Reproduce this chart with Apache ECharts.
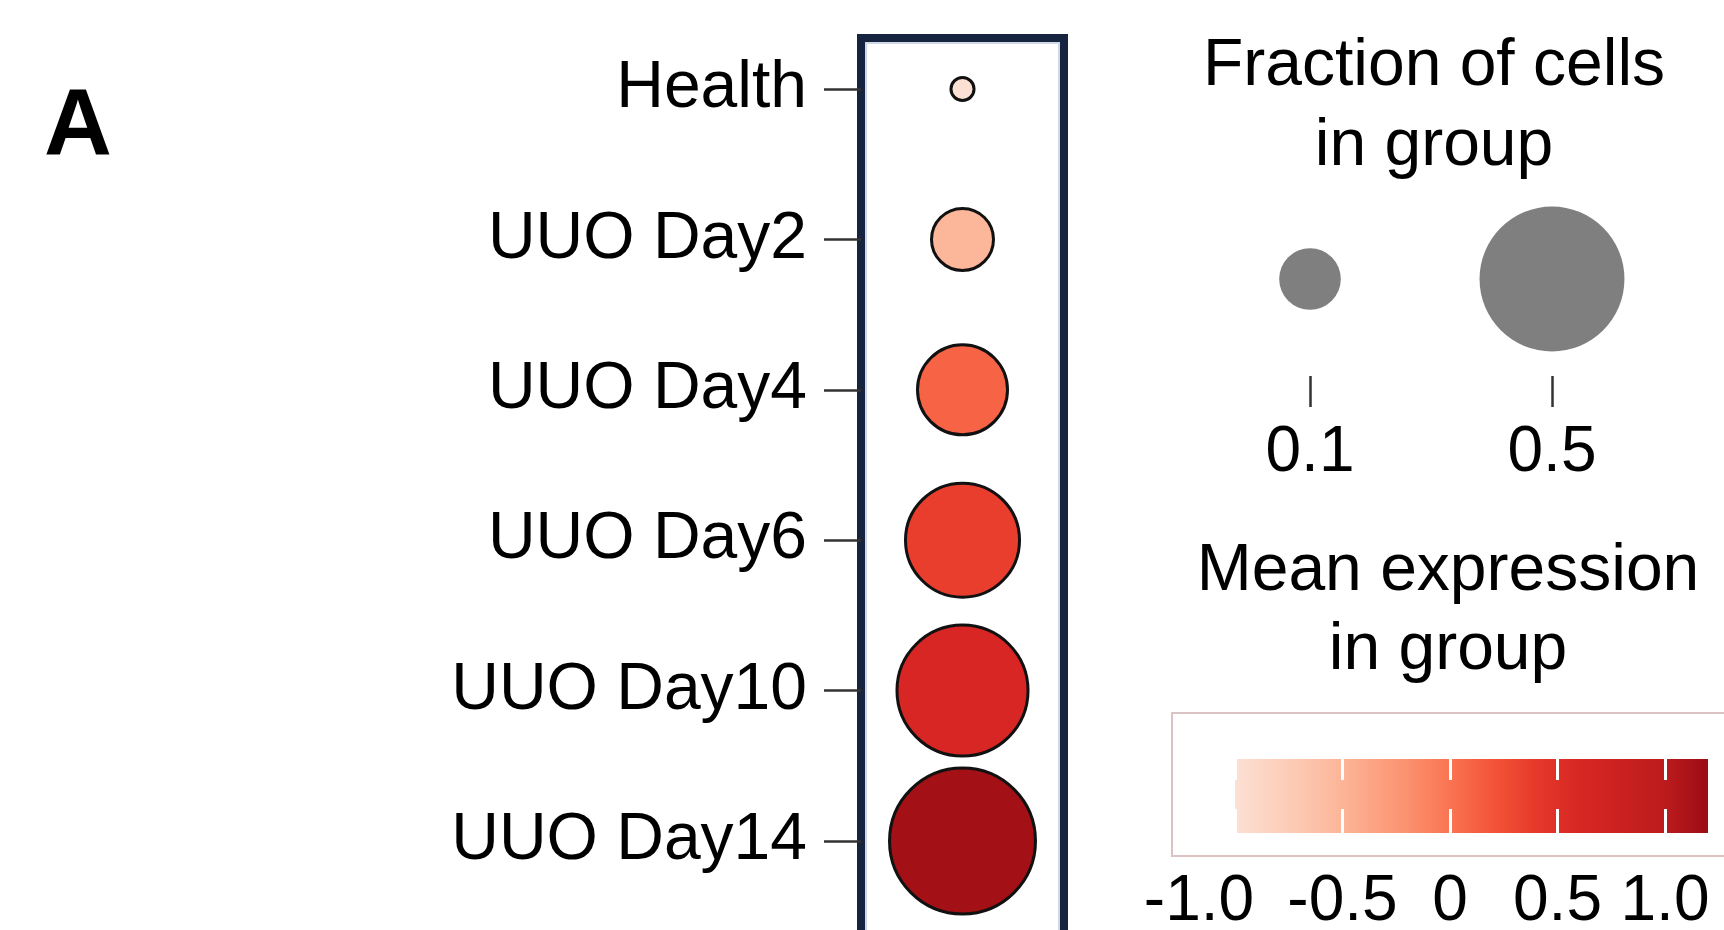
<!DOCTYPE html>
<html>
<head>
<meta charset="utf-8">
<title>Dot plot</title>
<script src="https://cdn.jsdelivr.net/npm/echarts@6/dist/echarts.min.js"></script>
<style>
  html, body { margin: 0; padding: 0; background: #ffffff; }
  #chart { width: 1724px; height: 930px; }
</style>
</head>
<body>
<div id="chart"></div>
<script>
// ---- data ----
const groups = ['Health', 'UUO Day2', 'UUO Day4', 'UUO Day6', 'UUO Day10', 'UUO Day14'];
const fractionInGroup = [0.024, 0.101, 0.200, 0.314, 0.411, 0.507];
const meanExpression = [-1.0, -0.52, 0.10, 0.36, 0.62, 1.15];

const sizeLegendFractions = [0.1, 0.5];
const sizeLegendLabels = ['0.1', '0.5'];

const colorRange = [-1.0, 1.2];
const colorTicks = [-1.0, -0.5, 0, 0.5, 1.0];
const colorTickLabels = ['-1.0', '-0.5', '0', '0.5', '1.0'];

// Reds-like palette, evenly spread across colorRange
const palette = ['#fde0d4', '#fcd0bc', '#fcbfa5', '#fca98a', '#fb916f', '#fa7452',
                 '#f35438', '#e6392b', '#d82723', '#ca2120', '#bc1b1d', '#9b0c14'];

// ---- helpers ----
const FONT = "'Liberation Sans', Arial, Helvetica, sans-serif";

// dot area grows linearly with the fraction of cells
function dotDiameter(frac) {
  return Math.sqrt(Math.max(43000 * frac - 500, 4));
}

const chart = echarts.init(document.getElementById('chart'), null, { renderer: 'canvas' });

const hiddenAxis = (gridIndex, extra) => Object.assign({
  gridIndex: gridIndex, type: 'value', show: false, min: 0, max: 1
}, extra || {});

const gridBase = { outerBoundsMode: 'none', containLabel: false };

const option = {
  backgroundColor: '#ffffff',
  animation: false,
  textStyle: { fontFamily: FONT },
  grid: [
    // 0: dark frame around the dots
    Object.assign({ left: 861, width: 203, top: 38, height: 1000, show: true, borderColor: '#17243f', borderWidth: 8, backgroundColor: 'transparent' }, gridBase),
    // 1: thin light line inside the frame
    Object.assign({ left: 866, width: 193, top: 43, height: 1000, show: true, borderColor: '#cfd8e6', borderWidth: 2, backgroundColor: 'transparent' }, gridBase),
    // 2: dot plot
    Object.assign({ left: 861, width: 203, top: 89, bottom: 89 }, gridBase),
    // 3: size legend
    Object.assign({ left: 1189, right: 51, top: 182, bottom: 554 }, gridBase),
    // 4: colorbar frame
    Object.assign({ left: 1172, width: 600, top: 713, bottom: 74, show: true, borderColor: '#dcc3c3', borderWidth: 2, backgroundColor: 'transparent' }, gridBase),
    // 5: colorbar
    Object.assign({ left: 1235, right: 16, top: 759, bottom: 97 }, gridBase)
  ],
  xAxis: [
    hiddenAxis(0),
    hiddenAxis(1),
    { gridIndex: 2, type: 'category', data: ['expr'], boundaryGap: true, show: false },
    {
      gridIndex: 3, type: 'category', data: sizeLegendLabels, boundaryGap: true, position: 'bottom',
      axisLine: { show: false },
      axisTick: { show: true, alignWithLabel: true, length: 31, lineStyle: { color: '#333333', width: 2.5 } },
      axisLabel: { fontSize: 64, color: '#000000', margin: 45, fontFamily: FONT },
      splitLine: { show: false }
    },
    hiddenAxis(4),
    {
      gridIndex: 5, type: 'value', position: 'bottom', min: colorRange[0], max: colorRange[1], interval: 0.5,
      z: 10,
      axisLine: { show: false },
      axisTick: { show: true, inside: true, length: 24, customValues: colorTicks, lineStyle: { color: '#ffffff', width: 3 } },
      axisLabel: {
        show: true, fontSize: 64, color: '#000000', margin: 37, fontFamily: FONT,
        customValues: colorTicks,
        formatter: function (v) {
          const i = colorTicks.findIndex(t => Math.abs(t - v) < 1e-9);
          if (i < 0) return '';
          // the lowest label sits a little to the left of its tick
          return i === 0 ? '{lo|' + colorTickLabels[i] + '}' : colorTickLabels[i];
        },
        rich: {
          lo: { fontSize: 64, fontFamily: FONT, color: '#000000', padding: [0, 72, 0, 0] }
        }
      },
      splitLine: { show: false }
    },
    {
      gridIndex: 5, type: 'value', position: 'top', min: colorRange[0], max: colorRange[1], interval: 0.5,
      z: 10,
      axisLine: { show: false },
      axisTick: { show: true, inside: true, length: 21, customValues: colorTicks, lineStyle: { color: '#ffffff', width: 3 } },
      axisLabel: { show: false },
      splitLine: { show: false }
    }
  ],
  yAxis: [
    hiddenAxis(0),
    hiddenAxis(1),
    {
      gridIndex: 2, type: 'category', data: groups, inverse: true, boundaryGap: false,
      axisLine: { show: false },
      axisTick: { show: true, length: 37, lineStyle: { color: '#333333', width: 2.5 } },
      axisLabel: { fontSize: 66, color: '#000000', margin: 54, fontFamily: FONT },
      splitLine: { show: false }
    },
    hiddenAxis(3, { min: 0, max: 2 }),
    hiddenAxis(4),
    hiddenAxis(5)
  ],
  visualMap: {
    type: 'continuous', show: false, seriesIndex: 0, dimension: 2,
    min: colorRange[0], max: colorRange[1],
    inRange: { color: palette }
  },
  series: [
    {
      name: 'dots', type: 'scatter', xAxisIndex: 2, yAxisIndex: 2,
      data: groups.map((g, i) => ['expr', g, meanExpression[i], fractionInGroup[i]]),
      symbol: 'circle',
      symbolSize: v => dotDiameter(v[3]),
      itemStyle: { borderColor: '#111111', borderWidth: 3, opacity: 1 },
      z: 5
    },
    {
      name: 'size legend', type: 'scatter', xAxisIndex: 3, yAxisIndex: 3,
      data: sizeLegendFractions.map((f, i) => [sizeLegendLabels[i], 1, f]),
      symbol: 'circle',
      symbolSize: v => dotDiameter(v[2]),
      itemStyle: { color: '#7f7f7f', opacity: 1 },
      z: 5
    },
    {
      name: 'colorbar', type: 'custom', xAxisIndex: 5, yAxisIndex: 5,
      data: [[colorRange[0], colorRange[1]]],
      renderItem: function (params, api) {
        const p0 = api.coord([api.value(0), 1]);
        const p1 = api.coord([api.value(1), 0]);
        const stops = palette.map((c, i) => ({ offset: i / (palette.length - 1), color: c }));
        return {
          type: 'rect',
          shape: { x: p0[0], y: p0[1], width: p1[0] - p0[0], height: p1[1] - p0[1] },
          style: { fill: new echarts.graphic.LinearGradient(0, 0, 1, 0, stops) }
        };
      },
      z: 2
    }
  ],
  graphic: [
    { type: 'text', x: 44, y: 129, style: { text: 'A', font: 'bold 94px ' + FONT, fill: '#000000', textAlign: 'left', verticalAlign: 'middle' } },
    { type: 'text', x: 1434, y: 67, style: { text: 'Fraction of cells', font: '66px ' + FONT, fill: '#000000', textAlign: 'center', verticalAlign: 'middle' } },
    { type: 'text', x: 1434, y: 147, style: { text: 'in group', font: '66px ' + FONT, fill: '#000000', textAlign: 'center', verticalAlign: 'middle' } },
    { type: 'text', x: 1448, y: 572, style: { text: 'Mean expression', font: '66px ' + FONT, fill: '#000000', textAlign: 'center', verticalAlign: 'middle' } },
    { type: 'text', x: 1448, y: 651, style: { text: 'in group', font: '66px ' + FONT, fill: '#000000', textAlign: 'center', verticalAlign: 'middle' } }
  ]
};

chart.setOption(option);
</script>
</body>
</html>
